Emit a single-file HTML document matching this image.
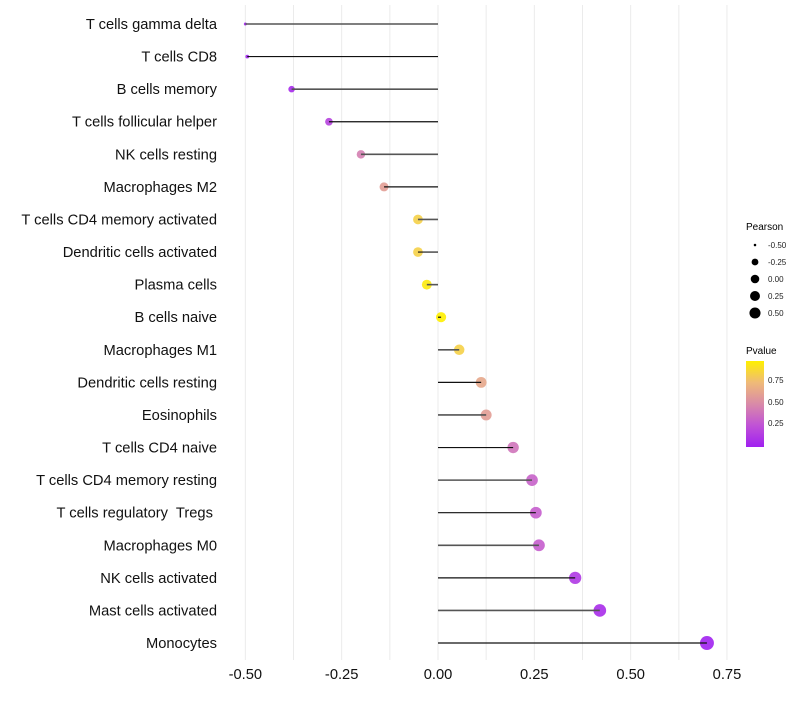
<!DOCTYPE html>
<html><head><meta charset="utf-8"><style>
body{margin:0;background:#fff;font-family:"Liberation Sans",sans-serif;}
svg text{font-family:"Liberation Sans",sans-serif;white-space:pre;}
</style></head><body>
<svg id="chart" width="800" height="700">
<defs><linearGradient id="pg" x1="0" y1="1" x2="0" y2="0">
<stop offset="0" stop-color="#a020f0"/><stop offset="0.25" stop-color="#c052d6"/><stop offset="0.5" stop-color="#d98aa8"/><stop offset="0.75" stop-color="#efba78"/><stop offset="1" stop-color="#fff000"/></linearGradient></defs>
<g id="grid"></g><g id="points"></g><g id="stems"></g><g id="axes"></g>
<g>
<text x="746" y="230" font-size="10">Pearson</text>
<g id="sizeLegend"></g>
<text x="746" y="354" font-size="10">Pvalue</text>
<rect x="746" y="361" width="18" height="86" fill="url(#pg)"/>
<g font-size="8" fill="#222">
<text x="768" y="383">0.75</text><text x="768" y="405">0.50</text><text x="768" y="426">0.25</text>
</g>
</g>
</svg>
<script>
const categories=["T cells gamma delta","T cells CD8","B cells memory","T cells follicular helper","NK cells resting","Macrophages M2","T cells CD4 memory activated","Dendritic cells activated","Plasma cells","B cells naive","Macrophages M1","Dendritic cells resting","Eosinophils","T cells CD4 naive","T cells CD4 memory resting","T cells regulatory  Tregs ","Macrophages M0","NK cells activated","Mast cells activated","Monocytes"];
const pearson=[-0.50,-0.495,-0.38,-0.283,-0.20,-0.14,-0.052,-0.052,-0.029,0.008,0.055,0.112,0.125,0.195,0.244,0.254,0.262,0.356,0.42,0.698];
const pvalue=[0.01,0.01,0.05,0.17,0.45,0.6,0.85,0.85,0.97,1.0,0.85,0.65,0.6,0.4,0.32,0.3,0.3,0.12,0.06,0.01];
const xTicks=[-0.5,-0.25,0,0.25,0.5,0.75];
const xTickLabels=["-0.50","-0.25","0.00","0.25","0.50","0.75"];
const sizeLegendValues=[-0.5,-0.25,0,0.25,0.5];
const sizeLegendLabels=["-0.50","-0.25","0.00","0.25","0.50"];
const NS="http://www.w3.org/2000/svg";
const x=v=>438+v*385.3;
const y=i=>24+i*32.58;
const r=v=>1.5+5.5*Math.sqrt(Math.max(0,(v+0.5)/1.2));
const stops=[[0,[160,32,240]],[0.25,[192,82,214]],[0.5,[217,138,168]],[0.75,[239,186,120]],[1,[255,240,0]]];
function col(p){for(let k=1;k<stops.length;k++){if(p<=stops[k][0]){const a=stops[k-1],b=stops[k],t=(p-a[0])/(b[0]-a[0]);return "rgb("+a[1].map((c,j)=>Math.round(c+(b[1][j]-c)*t)).join(",")+")";}}return "rgb(255,240,0)";}
function mk(t,attrs,parent){const e=document.createElementNS(NS,t);for(const k in attrs)e.setAttribute(k,attrs[k]);parent.appendChild(e);return e;}
const grid=document.getElementById('grid'),points=document.getElementById('points'),stems=document.getElementById('stems'),axes=document.getElementById('axes');
for(let v=-0.5;v<=0.75001;v+=0.125){const l=mk('line',{x1:x(v),x2:x(v),y1:5,y2:660,stroke:'#ebebeb','stroke-width':1},grid);

}
categories.forEach((c,i)=>{
const t=mk('text',{x:217,y:y(i)+5,'text-anchor':'end','font-size':14.7,fill:'#111'},axes);t.textContent=c;


const d=mk('circle',{cx:x(pearson[i]),cy:y(i),r:r(pearson[i]),fill:col(pvalue[i]),'fill-opacity':0.9},points);


const l=mk('line',{x1:x(0),x2:x(pearson[i]),y1:y(i),y2:y(i),stroke:i%2?'#111':'#555','stroke-width':i%2?1.2:1.6},stems);


});
xTicks.forEach((v,i)=>{const t=mk('text',{x:x(v),y:679,'text-anchor':'middle','font-size':14.7,fill:'#111'},axes);t.textContent=xTickLabels[i];

});
const sl=document.getElementById('sizeLegend');
sizeLegendValues.forEach((v,i)=>{const cy=245+i*17;
const c=mk('circle',{cx:755,cy:cy,r:r(v)*0.85,fill:'#000'},sl);


const t=mk('text',{x:768,y:cy+3,'font-size':8,fill:'#222'},sl);t.textContent=sizeLegendLabels[i];

});
</script>
</body></html>
